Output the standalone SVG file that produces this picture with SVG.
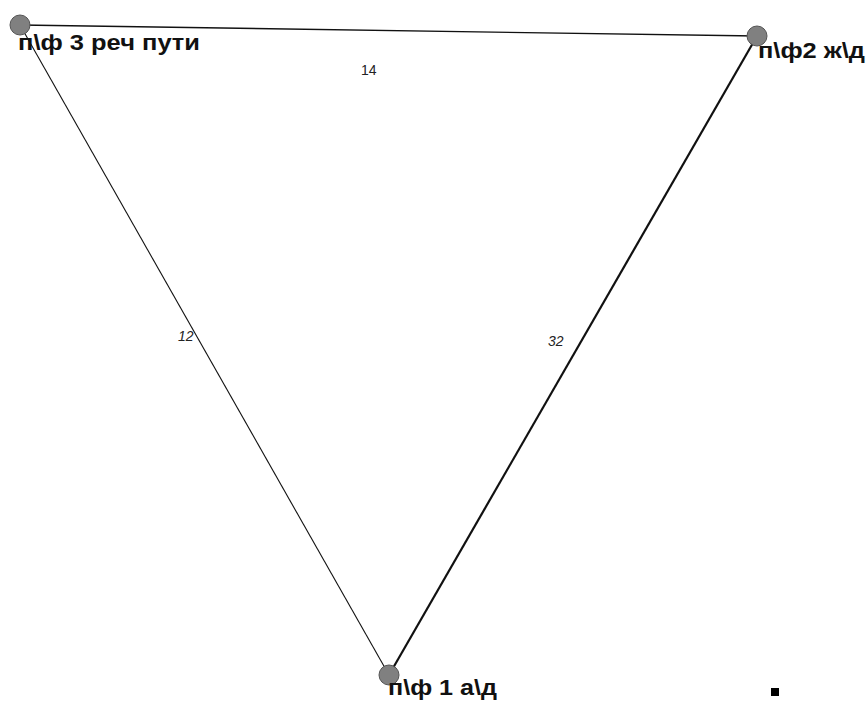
<svg xmlns="http://www.w3.org/2000/svg" width="866" height="701" viewBox="0 0 866 701">
<style>
.node{fill:#808080;stroke:#555;stroke-width:1}
.nl{font-family:"Liberation Sans",Arial,sans-serif;font-weight:bold;font-size:22px;fill:#111}
.el{font-family:"Liberation Sans",Arial,sans-serif;font-size:14px;fill:#222}
.e{stroke:#111;fill:none}
</style>
<rect width="866" height="701" fill="#fff"/>
<g id="edges">
<line class="e" x1="20" y1="25" x2="757" y2="36" stroke-width="1.3"/>
<line class="e" x1="20" y1="25" x2="389" y2="675" stroke-width="1.1"/>
<line class="e" x1="757" y1="36" x2="389" y2="675" stroke-width="2.2"/>
<text class="el" x="361" y="75">14</text>
<text class="el" x="178" y="341" font-style="italic">12</text>
<text class="el" x="548" y="346" font-style="italic">32</text>
</g>
<g id="n3">
<circle class="node" cx="20" cy="25" r="10"/>
<text class="nl" x="18" y="50" textLength="182" lengthAdjust="spacingAndGlyphs">п\ф 3 реч пути</text>
</g>
<g id="n2">
<circle class="node" cx="757" cy="36" r="10"/>
<text class="nl" x="758" y="58" textLength="107" lengthAdjust="spacingAndGlyphs">п\ф2 ж\д</text>
</g>
<g id="n1">
<circle class="node" cx="389" cy="675" r="10"/>
<text class="nl" x="388" y="695" textLength="109" lengthAdjust="spacingAndGlyphs">п\ф 1 а\д</text>
</g>
<rect x="771" y="688" width="8" height="8" fill="#000"/>
</svg>
